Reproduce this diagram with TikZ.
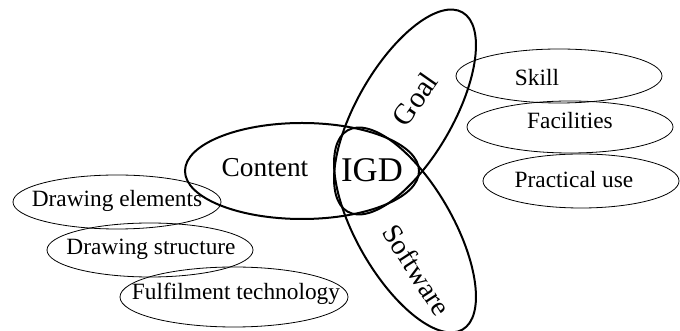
\documentclass[tikz,border=0pt]{standalone}
\usepackage{fontspec}
\setmainfont{Liberation Serif}

\begin{document}
\begin{tikzpicture}[x=0.75pt,y=0.75pt]
  \useasboundingbox (0,0) rectangle (680,331);

  \tikzset{
    big/.style={line width=1.5pt},
    small/.style={line width=0.6pt},
    lbl/.style={font=\fontsize{17.5}{20}\selectfont, anchor=base, inner sep=0pt},
    head/.style={font=\fontsize{21}{24}\selectfont, inner sep=0pt}
  };

  % ellipse at #1 with radii #2, #3, label node #4 at #5
  \newcommand{\bub}[6]{
    \draw[small] (#1) ellipse (#2 and #3);
    \node[lbl] (#4) at (#5) {#6};
  };

  % the three big ones
  \draw[big] (302,160) ellipse (117 and 48);
  \draw[big, rotate around={60:(405,219)}] (405,219) ellipse (115 and 48);
  \draw[big, rotate around={-60:(405,101)}] (405,101) ellipse (115 and 48);

  \node[head, anchor=base, font=\fontsize{20.5}{24}\selectfont] (content) at (265,154) {Content};
  \node[head, anchor=base, font=\fontsize{26}{30}\selectfont] (igd) at (372,149) {IGD};
  \node[head, rotate=55, font=\fontsize{22}{26}\selectfont] (goal) at (415,232) {Goal};
  \node[head, rotate=-57] (soft) at (417,61) {Software};

  % right side
  \bub{559,255}{103}{27}{skill}{537,245}{Skill};
  \bub{570,204}{103}{26}{facil}{570,202}{Facilities};
  \bub{581,150}{98}{27}{pract}{574,143}{Practical use};

  % left side
  \bub{117,129}{104}{27}{elem}{117,124}{Drawing elements};
  \bub{150,81}{103}{27}{struc}{151,76}{Drawing structure};
  \bub{234,34}{114}{30}{fulf}{236,31}{Fulfilment technology};

\end{tikzpicture}
\end{document}
